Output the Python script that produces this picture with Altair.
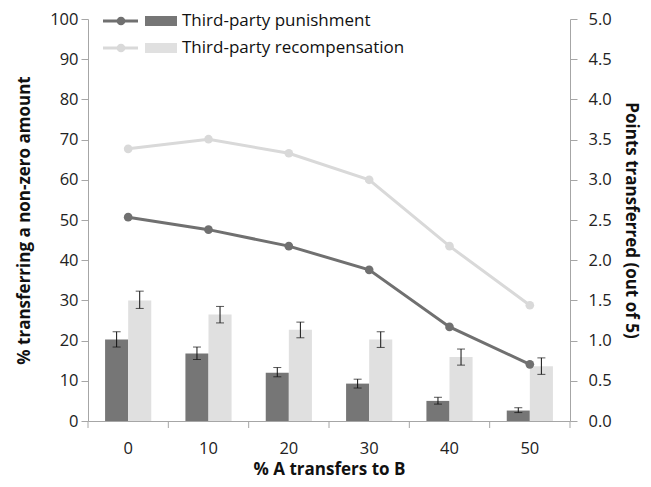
import altair as alt
import pandas as pd

categories = ["0", "10", "20", "30", "40", "50"]
series = ["Third-party punishment", "Third-party recompensation"]

# % transferring a non-zero amount (left axis) - lines
pct_punish = [50.7, 47.6, 43.5, 37.6, 23.4, 14.1]
pct_recomp = [67.7, 70.1, 66.6, 60.0, 43.5, 28.8]

# points transferred (out of 5) (right axis) - bars with error bars
pts_punish = [1.015, 0.84, 0.60, 0.465, 0.25, 0.13]
pts_punish_lo = [0.92, 0.765, 0.55, 0.41, 0.21, 0.105]
pts_punish_hi = [1.11, 0.92, 0.665, 0.52, 0.295, 0.165]
pts_recomp = [1.50, 1.325, 1.135, 1.015, 0.795, 0.68]
pts_recomp_lo = [1.40, 1.22, 1.035, 0.915, 0.695, 0.58]
pts_recomp_hi = [1.615, 1.425, 1.23, 1.11, 0.895, 0.785]

dark_bar = "#767676"
light_bar = "#e0e0e0"
dark_line = "#707070"
light_line = "#d9d9d9"
FONT = "Open Sans"
AX = "#a6a6a6"
LBL = 16.5
TTL = 17

W, H = 482, 402

lines_df = pd.DataFrame({
    "cat": categories * 2,
    "series": [series[0]] * 6 + [series[1]] * 6,
    "pct": pct_punish + pct_recomp,
})
bars_df = pd.DataFrame({
    "cat": categories * 2,
    "series": [series[0]] * 6 + [series[1]] * 6,
    "pts": pts_punish + pts_recomp,
    "lo": pts_punish_lo + pts_recomp_lo,
    "hi": pts_punish_hi + pts_recomp_hi,
})

xscale = alt.Scale(domain=categories, paddingInner=0, paddingOuter=0)
x_axis = alt.Axis(title="% A transfers to B", labelAngle=0, ticks=False,
                  domainColor=AX, labelFontSize=LBL, labelPadding=19,
                  titleFontSize=TTL, titleFontWeight="bold",
                  titleY=57, titleBaseline="bottom",
                  labelColor="#222", titleColor="#111")
x_enc = alt.X("cat:O", scale=xscale, sort=categories, axis=x_axis)
xoff = alt.XOffset("series:N", sort=series,
                   scale=alt.Scale(domain=series, paddingInner=0, paddingOuter=0.74))
colscale = alt.Scale(domain=series, range=[dark_bar, light_bar])

yright = alt.Scale(domain=[0, 5])
right_axis = alt.Axis(orient="right", title="Points transferred (out of 5)",
                      values=[i * 0.5 for i in range(11)], format=".1f",
                      grid=False, domainColor=AX, tickColor=AX,
                      tickSize=7, labelFontSize=LBL, labelPadding=11,
                      titleFontSize=TTL, titleFontWeight="bold",
                      titleX=60, titleBaseline="middle",
                      labelColor="#222", titleColor="#111")

bars = alt.Chart(bars_df).mark_bar().encode(
    x=x_enc, xOffset=xoff,
    y=alt.Y("pts:Q", scale=yright, axis=right_axis),
    color=alt.Color("series:N", scale=colscale, legend=None),
)
err = alt.Chart(bars_df).mark_rule(color="#111", strokeWidth=1).encode(
    x=x_enc, xOffset=xoff,
    y=alt.Y("lo:Q", scale=yright, axis=right_axis), y2="hi:Q",
)
cap_lo = alt.Chart(bars_df).mark_tick(color="#111", size=8, thickness=1, orient="horizontal").encode(
    x=x_enc, xOffset=xoff, y=alt.Y("lo:Q", scale=yright, axis=right_axis))
cap_hi = alt.Chart(bars_df).mark_tick(color="#111", size=8, thickness=1, orient="horizontal").encode(
    x=x_enc, xOffset=xoff, y=alt.Y("hi:Q", scale=yright, axis=right_axis))

# x tick marks at category boundaries
xticks = alt.Chart(pd.DataFrame({"cat": categories})).mark_rule(color=AX).encode(
    x=alt.X("cat:O", scale=xscale, sort=categories, bandPosition=0, axis=x_axis),
    y=alt.value(H), y2=alt.value(H + 7),
)
xtick_end = alt.Chart(pd.DataFrame({"cat": categories[-1:]})).mark_rule(color=AX).encode(
    x=alt.X("cat:O", scale=xscale, sort=categories, bandPosition=1, axis=x_axis),
    y=alt.value(H), y2=alt.value(H + 7),
)

right_layer = alt.layer(bars, err, cap_lo, cap_hi)

yleft = alt.Scale(domain=[0, 100])
left_axis = alt.Axis(orient="left", title="% transferring a non-zero amount",
                     values=list(range(0, 101, 10)), grid=False,
                     domainColor=AX, tickColor=AX, tickSize=7,
                     labelFontSize=LBL, labelPadding=3, titleFontSize=TTL,
                     titleFontWeight="bold", titleX=-64, titleBaseline="middle",
                     labelColor="#222", titleColor="#111")
lcol = alt.Scale(domain=series, range=[dark_line, light_line])
lines = alt.Chart(lines_df).mark_line(strokeWidth=3).encode(
    x=x_enc, y=alt.Y("pct:Q", scale=yleft, axis=left_axis),
    color=alt.Color("series:N", scale=lcol, legend=None),
    detail="series:N",
)
pts = alt.Chart(lines_df).mark_circle(size=75, opacity=1).encode(
    x=x_enc, y=alt.Y("pct:Q", scale=yleft, axis=left_axis),
    color=alt.Color("series:N", scale=lcol, legend=None),
)

left_layer = alt.layer(lines, pts, xticks, xtick_end)

# manual legend
leg_layers = []
one = pd.DataFrame({"a": [0]})
for i, (s, lc, bc) in enumerate(zip(series, [dark_line, light_line], [dark_bar, light_bar])):
    yy = 2 + i * 27
    leg_layers.append(alt.Chart(one).mark_rule(color=lc, strokeWidth=3).encode(
        x=alt.value(15), x2=alt.value(50), y=alt.value(yy)))
    leg_layers.append(alt.Chart(one).mark_circle(color=lc, size=75, opacity=1).encode(
        x=alt.value(33), y=alt.value(yy)))
    leg_layers.append(alt.Chart(one).mark_rect(color=bc).encode(
        x=alt.value(57), x2=alt.value(89), y=alt.value(yy - 5), y2=alt.value(yy + 5)))
    leg_layers.append(alt.Chart(one).mark_text(text=s, align="left", baseline="middle",
                                               fontSize=17, font=FONT, color="#111").encode(
        x=alt.value(94), y=alt.value(yy)))

chart = alt.layer(right_layer, left_layer, *leg_layers).resolve_scale(
    y="independent", color="independent"
).properties(
    width=W, height=H,
    autosize=alt.AutoSizeParams(type="none"),
    padding={"left": 80, "top": 11, "right": 73, "bottom": 58},
).configure(font=FONT).configure_view(stroke=None).configure_axis(
    labelFont=FONT, titleFont=FONT
)

chart.save("out.html", embed_options={"renderer": "svg", "actions": False})
